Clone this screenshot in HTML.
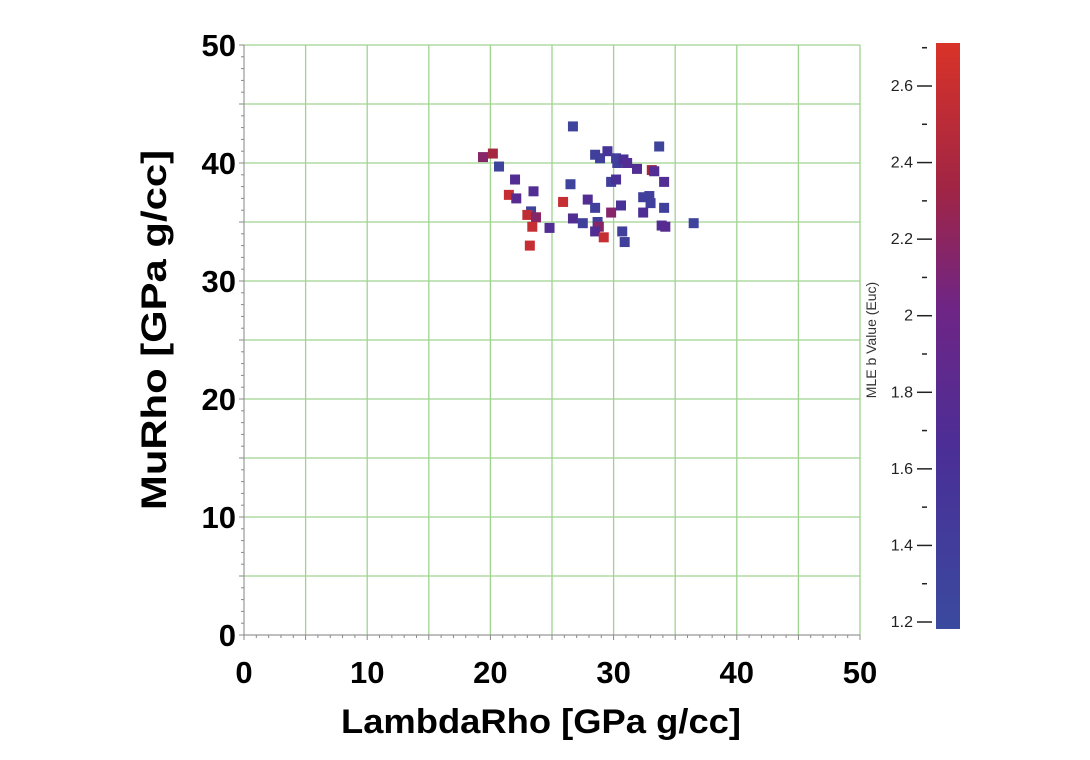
<!DOCTYPE html>
<html><head><meta charset="utf-8"><style>
html,body{margin:0;padding:0;background:#fff;}
svg{display:block;font-family:"Liberation Sans",sans-serif;}
</style></head><body>
<svg id="chart" width="1090" height="760">
<defs>
<linearGradient id="cb" x1="0" y1="1" x2="0" y2="0">
<stop offset="0" stop-color="#3a4a9e"/>
<stop offset="0.3" stop-color="#4a2f97"/>
<stop offset="0.55" stop-color="#6f2585"/>
<stop offset="0.75" stop-color="#a02545"/>
<stop offset="1" stop-color="#d93328"/>
</linearGradient>
</defs>
<g id="grid"></g>
<g id="axes"></g>
<g id="points"></g>
<g id="colorbar"></g>
<text x="541" y="733" font-size="34" font-weight="bold" text-anchor="middle" textLength="400" lengthAdjust="spacingAndGlyphs">LambdaRho [GPa g/cc]</text>
<text transform="translate(166,330) rotate(-90)" font-size="35" font-weight="bold" text-anchor="middle" textLength="360" lengthAdjust="spacingAndGlyphs">MuRho [GPa g/cc]</text>
<text transform="translate(876,340) rotate(-90)" font-size="14" text-anchor="middle" fill="#333">MLE b Value (Euc)</text>
</svg>
<script>
const xVals=[26.7,19.4,20.2,20.7,22.0,21.5,22.1,23.5,23.3,23.0,23.7,23.4,23.2,24.8,25.9,26.5,26.7,27.5,27.9,28.5,28.7,28.8,28.5,29.2,28.5,28.9,29.5,29.8,30.2,29.8,30.2,30.3,30.8,31.1,30.6,30.7,30.9,31.9,33.1,33.3,33.7,34.1,32.4,32.9,33.0,32.4,34.1,33.9,34.2,36.5];
const yVals=[43.1,40.5,40.8,39.7,38.6,37.3,37.0,37.6,35.9,35.6,35.4,34.6,33.0,34.5,36.7,38.2,35.3,34.9,36.9,36.2,35.0,34.6,34.2,33.7,40.7,40.4,41.0,38.4,38.6,35.8,40.4,40.0,40.3,40.0,36.4,34.2,33.3,39.5,39.4,39.3,41.4,38.4,37.1,37.2,36.6,35.8,36.2,34.7,34.6,34.9];
const bVals=[1.3,2.1,2.3,1.3,1.7,2.55,1.75,1.7,1.3,2.5,2.1,2.55,2.55,1.7,2.55,1.3,1.7,1.35,1.7,1.35,1.35,2.1,1.7,2.55,1.35,1.35,1.55,1.35,1.6,2.1,1.35,1.35,1.6,1.7,1.6,1.35,1.35,1.7,2.3,1.7,1.3,1.7,1.35,1.35,1.35,1.65,1.35,1.7,1.75,1.3];
const xTicks=[0,10,20,30,40,50];
const yTicks=[0,10,20,30,40,50];
const cbTicks=[1.2,1.4,1.6,1.8,2.0,2.2,2.4,2.6];
const cbLabels=["1.2","1.4","1.6","1.8","2","2.2","2.4","2.6"];

const NS="http://www.w3.org/2000/svg";
const X0=244,X1=860,Y0=635,Y1=45;
const sx=v=>X0+(v/50)*(X1-X0);
const sy=v=>Y0-(v/50)*(Y0-Y1);
const CB0=622,CB1=86;
const cy=v=>CB0-(v-1.2)/(2.6-1.2)*(CB0-CB1);
function mk(tag,attrs,parent){const e=document.createElementNS(NS,tag);for(const k in attrs)e.setAttribute(k,attrs[k]);parent.appendChild(e);return e;}
const grid=document.getElementById('grid'),axes=document.getElementById('axes'),pts=document.getElementById('points'),cb=document.getElementById('colorbar');
for(let v=5;v<=50;v+=5){
  const l1=mk('line',{x1:sx(v),x2:sx(v),y1:Y1,y2:Y0,stroke:'#9fd48f','stroke-width':1.3},grid);
  
  
  const l2=mk('line',{x1:X0,x2:X1,y1:sy(v),y2:sy(v),stroke:'#9fd48f','stroke-width':1.3},grid);
  
  
}
mk('line',{x1:X0,x2:X1,y1:Y0,y2:Y0,stroke:'#999','stroke-width':1.2},axes);
mk('line',{x1:X0,x2:X0,y1:Y1,y2:Y0,stroke:'#999','stroke-width':1.2},axes);
for(let v=0;v<=50;v+=1){
  mk('line',{x1:sx(v),x2:sx(v),y1:Y0,y2:Y0+(v%5?3:5),stroke:'#888'},axes);
  mk('line',{x1:X0-(v%5?3:5),x2:X0,y1:sy(v),y2:sy(v),stroke:'#888'},axes);
}
xTicks.forEach(v=>{
  const t=mk('text',{x:sx(v),y:683,'font-size':31,'font-weight':'bold','text-anchor':'middle'},axes);
  t.textContent=v;
  
  
});
yTicks.forEach(v=>{
  const t=mk('text',{x:236,y:sy(v)+11,'font-size':31,'font-weight':'bold','text-anchor':'end'},axes);
  t.textContent=v;
  
  
});
function col(b){
  const stops=[[1.2,[58,74,158]],[1.62,[74,47,151]],[1.97,[111,37,133]],[2.25,[160,37,69]],[2.71,[217,51,40]]];
  for(let i=0;i<stops.length-1;i++){const[a,ca]=stops[i],[c,cc]=stops[i+1];
    if(b<=c||i==stops.length-2){let t=Math.max(0,Math.min(1,(b-a)/(c-a)));return 'rgb('+ca.map((q,j)=>Math.round(q+(cc[j]-q)*t)).join(',')+')';}}
}
xVals.forEach((x,i)=>{
  const r=mk('rect',{x:sx(x)-5,y:sy(yVals[i])-5,width:10,height:10,fill:col(bVals[i])},pts);
  
  
});
const bar=mk('rect',{x:936,y:43,width:24,height:586,fill:'url(#cb)'},cb);


cbTicks.forEach((v,i)=>{
  mk('line',{x1:917,x2:932,y1:cy(v),y2:cy(v),stroke:'#222','stroke-width':1.5},cb);
  const t=mk('text',{x:913,y:cy(v)+5,'font-size':16,'text-anchor':'end',fill:'#222'},cb);
  t.textContent=cbLabels[i];
  
  
  const mv=v+0.1; if(cy(mv)>=43) mk('line',{x1:922,x2:927,y1:cy(mv),y2:cy(mv),stroke:'#222','stroke-width':1.5},cb);
});
mk('line',{x1:922,x2:927,y1:cy(2.7),y2:cy(2.7),stroke:'#222','stroke-width':1.5},cb);
</script>
</body></html>
